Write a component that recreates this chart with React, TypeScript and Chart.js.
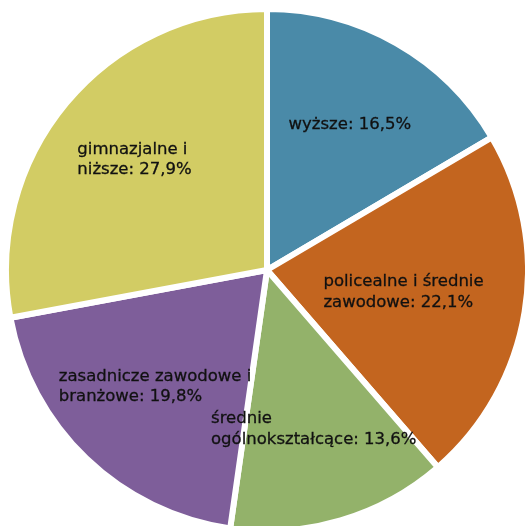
import React, { useEffect, useRef } from "react";
import { Chart, registerables } from "chart.js";

Chart.register(...registerables);

const categories = [
  "wyższe",
  "policealne i średnie zawodowe",
  "średnie ogólnokształcące",
  "zasadnicze zawodowe i branżowe",
  "gimnazjalne i niższe",
];
const values = [16.5, 22.1, 13.6, 19.8, 27.9];
const colors = ["#4A8AA8", "#C3651F", "#93B26A", "#7E5E9A", "#D2CC64"];
// number of words on the first label line (0 = single line)
const firstLineWords = [0, 3, 1, 3, 2];
// label centre distance as a fraction of radius
const labelRadius = [0.64, 0.53, 0.635, 0.62, 0.66];

const fmt = (v: number) => v.toFixed(1).replace(".", ",") + "%";

const labelPlugin = {
  id: "sliceLabels",
  afterDatasetsDraw(chart: any) {
    const ctx = chart.ctx;
    const meta = chart.getDatasetMeta(0);
    ctx.save();
    ctx.font = "16.5px 'DejaVu Sans'";
    ctx.fillStyle = "#111111";
    ctx.strokeStyle = "#111111";
    ctx.lineWidth = 0.3;
    ctx.textBaseline = "middle";
    ctx.textAlign = "left";
    const lh = 20.5;
    meta.data.forEach((arc: any, i: number) => {
      const full = `${categories[i]}: ${fmt(values[i])}`;
      const words = full.split(" ");
      const n = firstLineWords[i];
      const lines = n > 0 ? [words.slice(0, n).join(" "), words.slice(n).join(" ")] : [full];
      const mid = (arc.startAngle + arc.endAngle) / 2;
      const r = arc.outerRadius * labelRadius[i];
      const cx = arc.x + Math.cos(mid) * r;
      const cy = arc.y + Math.sin(mid) * r;
      const w = Math.max(...lines.map((l: string) => ctx.measureText(l).width));
      const x0 = cx - w / 2;
      const y0 = cy - ((lines.length - 1) * lh) / 2;
      lines.forEach((l: string, k: number) => {
        ctx.fillText(l, x0, y0 + k * lh);
        ctx.strokeText(l, x0, y0 + k * lh);
      });
    });
    ctx.restore();
  },
};

export default function App() {
  const ref = useRef<HTMLCanvasElement | null>(null);
  useEffect(() => {
    if (!ref.current) return;
    const chart = new Chart(ref.current, {
      type: "pie",
      data: {
        labels: categories,
        datasets: [
          {
            data: values,
            backgroundColor: colors,
            borderColor: "#ffffff",
            borderWidth: 6,
          },
        ],
      },
      options: {
        responsive: false,
        animation: false,
        radius: 261,
        layout: { padding: { left: 9, top: 14, right: 0, bottom: 0 } },
        plugins: { legend: { display: false }, tooltip: { enabled: false } },
      } as any,
      plugins: [labelPlugin],
    });
    return () => chart.destroy();
  }, []);
  return (
    <div style={{ position: "absolute", left: 0, top: 0, width: 525, height: 526, background: "#fff" }}>
      <canvas ref={ref} width={525} height={526} />
    </div>
  );
}
